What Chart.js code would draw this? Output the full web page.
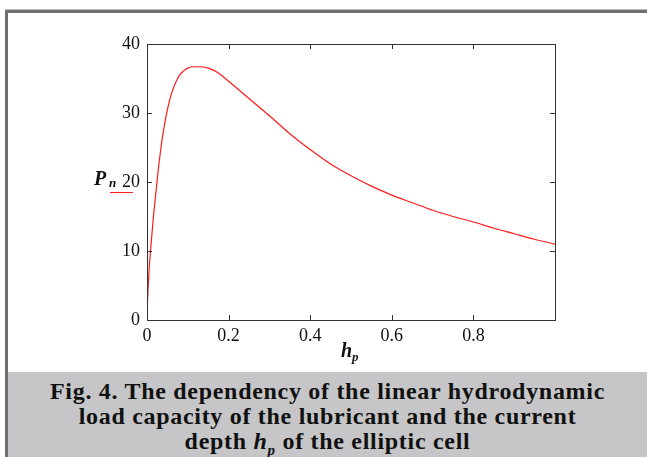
<!DOCTYPE html>
<html>
<head>
<meta charset="utf-8">
<script src="https://cdn.jsdelivr.net/npm/chart.js@4.4.1/dist/chart.umd.min.js"></script>
<style>
  html, body { margin: 0; padding: 0; background: #fff; }
  body { width: 647px; height: 457px; overflow: hidden; position: relative; }
  .topline { position: absolute; left: 5px; top: 9px; right: 0; height: 1px; background: #b8b8b8; }
  .frame { position: absolute; left: 5px; top: 10px; right: 0; bottom: 0;
           border-left: 3px solid #6f6f6f; border-top: 3px solid #6f6f6f; }
  .plot { position: absolute; left: 8px; top: 13px; width: 639px; height: 359px; }
  .caption { position: absolute; left: 8px; top: 372px; width: 639px; height: 85px;
             background: #c6c6c8; text-align: center; font-family: "Liberation Serif", serif;
             font-weight: bold; font-size: 24px; letter-spacing: 0.7px; line-height: 25px; padding-top: 7px;
             box-sizing: border-box; color: #111; }
  .caption i sub { font-size: 15px; line-height: 0; }
</style>
</head>
<body>
<div class="topline"></div>
<div class="frame"></div>
<div class="plot"><canvas id="chart" width="639" height="359"></canvas></div>
<div class="caption">Fig. 4. The dependency of the linear hydrodynamic<br>load capacity of the lubricant and the current<br>depth <i>h<sub>p</sub></i> of the elliptic cell</div>
<script>
const hp = [0, 0.003, 0.006, 0.01, 0.015, 0.02, 0.025, 0.03, 0.04, 0.05, 0.06, 0.07, 0.08, 0.09, 0.10, 0.115, 0.13, 0.15, 0.175, 0.2, 0.25, 0.3, 0.35, 0.4, 0.45, 0.5, 0.55, 0.6, 0.65, 0.7, 0.75, 0.8, 0.85, 0.9, 0.95, 1.0];
const pn = [1.0, 5, 8, 11, 14.5, 17.5, 20.3, 23, 27.3, 30.5, 32.8, 34.4, 35.5, 36.1, 36.5, 36.7, 36.7, 36.5, 35.8, 34.6, 32.1, 29.6, 27.0, 24.7, 22.6, 20.9, 19.4, 18.1, 17.0, 15.9, 15.0, 14.2, 13.3, 12.5, 11.7, 11.0];
const xTicks = [0, 0.2, 0.4, 0.6, 0.8];
const yTicks = [0, 10, 20, 30, 40];

const serif = "'Liberation Serif', serif";

// box with inward ticks on all four sides + the axis labels
const boxPlugin = {
  id: "box",
  afterDraw(chart) {
    const { ctx, chartArea: a, scales } = chart;
    ctx.save();
    ctx.strokeStyle = "#333";
    ctx.lineWidth = 1;
    ctx.strokeRect(a.left + 0.5, a.top + 0.5, a.right - a.left, a.bottom - a.top);
    ctx.beginPath();
    xTicks.forEach(v => {
      const x = Math.round(scales.x.getPixelForValue(v)) + 0.5;
      ctx.moveTo(x, a.bottom); ctx.lineTo(x, a.bottom - 5);
      ctx.moveTo(x, a.top); ctx.lineTo(x, a.top + 5);
    });
    yTicks.forEach(v => {
      const y = Math.round(scales.y.getPixelForValue(v)) + 0.5;
      ctx.moveTo(a.left, y); ctx.lineTo(a.left + 5, y);
      ctx.moveTo(a.right, y); ctx.lineTo(a.right - 5, y);
    });
    ctx.stroke();

    ctx.fillStyle = "#111";
    ctx.textBaseline = "alphabetic";
    // x label h_p
    const cx = (a.left + a.right) / 2;
    ctx.font = "bold italic 20px " + serif;
    ctx.textAlign = "right";
    ctx.fillText("h", cx + 1, a.bottom + 37);
    ctx.font = "bold italic 13px " + serif;
    ctx.textAlign = "left";
    ctx.fillText("p", cx + 1, a.bottom + 41);
    // y label P_n with red line sample
    const ly = scales.y.getPixelForValue(20);
    ctx.font = "bold italic 20px " + serif;
    ctx.textAlign = "left";
    ctx.fillText("P", a.left - 53, ly + 3);
    ctx.font = "bold italic 13px " + serif;
    ctx.fillText("n", a.left - 38, ly + 5);
    ctx.strokeStyle = "#ff2020";
    ctx.beginPath();
    ctx.moveTo(a.left - 37, ly + 10.5);
    ctx.lineTo(a.left - 14, ly + 10.5);
    ctx.stroke();
    ctx.restore();
  }
};

function draw() {
  new Chart(document.getElementById("chart"), {
    type: "line",
    data: {
      datasets: [{
        data: hp.map((x, i) => ({ x, y: pn[i] })),
        borderColor: "#ff1a1a",
        borderWidth: 1.2,
        pointRadius: 0,
        fill: false,
        cubicInterpolationMode: "monotone"
      }]
    },
    options: {
      responsive: false,
      animation: false,
      layout: { padding: { top: 31, right: 92, left: 0, bottom: 0 } },
      plugins: { legend: { display: false }, tooltip: { enabled: false } },
      scales: {
        x: {
          type: "linear", min: 0, max: 1,
          grid: { display: false, drawTicks: false },
          border: { display: false },
          afterBuildTicks: s => { s.ticks = xTicks.map(v => ({ value: v })); },
          afterFit: s => { s.height = 52; },
          ticks: { color: "#111", padding: 5, font: { family: serif, size: 18 }, maxRotation: 0 }
        },
        y: {
          min: 0, max: 40,
          grid: { display: false, drawTicks: false },
          border: { display: false },
          afterBuildTicks: s => { s.ticks = yTicks.map(v => ({ value: v })); },
          afterFit: s => { s.width = 139; },
          ticks: { color: "#111", padding: 7, font: { family: serif, size: 18 } }
        }
      }
    },
    plugins: [boxPlugin]
  });
}

Promise.all([
  document.fonts.load("18px 'Liberation Serif'"),
  document.fonts.load("bold italic 20px 'Liberation Serif'")
]).then(draw, draw);
</script>
</body>
</html>
